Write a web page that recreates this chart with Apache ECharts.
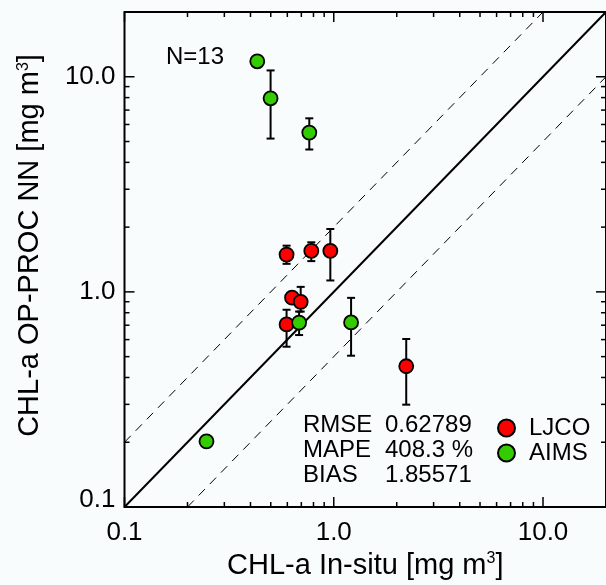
<!DOCTYPE html>
<html>
<head>
<meta charset="utf-8">
<script src="https://cdn.jsdelivr.net/npm/echarts@6/dist/echarts.min.js"></script>
<style>
  html, body { margin: 0; padding: 0; background: #f9fcfc; }
  #chart { width: 606px; height: 585px; }
</style>
</head>
<body>
<div id="chart"></div>
<script>
// LJCO match-ups (red)
const ljcoX = [0.595, 0.781, 0.963, 0.632, 0.695, 0.595, 2.22];
const ljcoY = [1.49, 1.55, 1.55, 0.94, 0.899, 0.706, 0.451];
const ljcoLo = [1.35, 1.39, 1.13, null, 0.81, 0.556, 0.299];
const ljcoHi = [1.64, 1.70, 1.96, null, 1.055, 0.826, 0.604];

// AIMS match-ups (green)
const aimsX = [0.431, 0.499, 0.764, 0.683, 1.21, 0.2465];
const aimsY = [11.8, 7.94, 5.5, 0.72, 0.721, 0.202];
const aimsLo = [null, 5.16, 4.59, 0.63, 0.505, null];
const aimsHi = [null, 10.7, 6.41, 0.81, 0.938, null];

// reference lines: 1:1, and factor 2 above / below
const lineOne = [[0.1, 0.1], [20, 20]];
const lineUp = [[0.1, 0.2], [10, 20]];
const lineDown = [[0.2, 0.1], [20, 10]];

const axisMin = 0.1;
const axisMax = 20;
const majorTicks = [0.1, 1, 10];
const majorLabels = ['0.1', '1.0', '10.0'];
const minorTicks = [0.2, 0.3, 0.4, 0.5, 0.6, 0.7, 0.8, 0.9, 2, 3, 4, 5, 6, 7, 8, 9];

const stats = [
  ['RMSE', '0.62789'],
  ['MAPE', '408.3 %'],
  ['BIAS', '1.85571']
];

const FONT = '"Liberation Sans", Arial, Helvetica, sans-serif';
const RED = '#ff0000';
const GREEN = '#33cc00';

function labelFor(v) {
  let idx = 0;
  majorTicks.forEach((t, i) => {
    if (Math.abs(Math.log10(t) - Math.log10(v)) < Math.abs(Math.log10(majorTicks[idx]) - Math.log10(v))) idx = i;
  });
  return majorLabels[idx];
}

function errData(xs, lo, hi) {
  const out = [];
  xs.forEach((x, i) => {
    if (lo[i] != null) out.push([x, lo[i], hi[i]]);
  });
  return out;
}

function zip(xs, ys) {
  return xs.map((x, i) => [x, ys[i]]);
}

function renderErr(params, api) {
  const x = api.value(0);
  const p1 = api.coord([x, api.value(1)]);
  const p2 = api.coord([x, api.value(2)]);
  const cap = 4;
  const style = { stroke: '#000', lineWidth: 2 };
  return {
    type: 'group',
    children: [
      { type: 'line', shape: { x1: p1[0], y1: p1[1], x2: p2[0], y2: p2[1] }, style },
      { type: 'line', shape: { x1: p1[0] - cap, y1: p1[1], x2: p1[0] + cap, y2: p1[1] }, style },
      { type: 'line', shape: { x1: p2[0] - cap, y1: p2[1], x2: p2[0] + cap, y2: p2[1] }, style }
    ]
  };
}

// ticks on all four sides, pointing inwards
function renderTick(horizontal) {
  return function (params, api) {
    const cs = params.coordSys;
    const len = api.value(2) ? 10 : 5;
    const style = { stroke: '#000', lineWidth: 1.5 };
    if (horizontal) {
      const px = api.coord([api.value(0), 1])[0];
      const b = cs.y + cs.height;
      return {
        type: 'group',
        children: [
          { type: 'line', shape: { x1: px, y1: b, x2: px, y2: b - len }, style },
          { type: 'line', shape: { x1: px, y1: cs.y, x2: px, y2: cs.y + len }, style }
        ]
      };
    }
    const py = api.coord([1, api.value(1)])[1];
    const r = cs.x + cs.width;
    return {
      type: 'group',
      children: [
        { type: 'line', shape: { x1: cs.x, y1: py, x2: cs.x + len, y2: py }, style },
        { type: 'line', shape: { x1: r, y1: py, x2: r - len, y2: py }, style }
      ]
    };
  };
}

const xTickData = majorTicks.map(v => [v, 1, 1]).concat(minorTicks.map(v => [v, 1, 0]));
const yTickData = majorTicks.map(v => [1, v, 1]).concat(minorTicks.map(v => [1, v, 0]));

const chart = echarts.init(document.getElementById('chart'));

const statText = [];
stats.forEach((s, i) => {
  statText.push({
    type: 'text', left: 303, top: 413 + i * 25,
    style: { text: s[0], font: '24px ' + FONT, fill: '#000' }
  });
  statText.push({
    type: 'text', left: 385, top: 413 + i * 25,
    style: { text: s[1], font: '24px ' + FONT, fill: '#000' }
  });
});

const option = {
  backgroundColor: '#f9fcfc',
  animation: false,
  grid: {
    left: 124.5, top: 12, right: -7, bottom: 76,
    show: true, borderColor: '#000', borderWidth: 2, backgroundColor: 'transparent'
  },
  legend: {
    orient: 'vertical',
    left: 492, top: 411,
    itemWidth: 17, itemHeight: 17, itemGap: 1,
    icon: 'circle',
    data: ['LJCO', 'AIMS'],
    textStyle: { fontFamily: FONT, fontSize: 24, color: '#000', lineHeight: 22, padding: [0, 0, 0, 9] }
  },
  xAxis: {
    type: 'log', min: axisMin, max: axisMax,
    axisLine: { show: false },
    axisTick: { show: false },
    splitLine: { show: false },
    axisLabel: {
      customValues: majorTicks,
      formatter: v => labelFor(v),
      fontFamily: FONT, fontSize: 26, color: '#000', margin: 13
    },
    name: 'CHL-a In-situ [mg m{sup|3}]',
    nameLocation: 'middle', nameGap: 44,
    nameTextStyle: {
      fontFamily: FONT, fontSize: 29, color: '#000',
      rich: { sup: { fontFamily: FONT, fontSize: 16, verticalAlign: 'top', color: '#000' } }
    }
  },
  yAxis: {
    type: 'log', min: axisMin, max: axisMax,
    axisLine: { show: false },
    axisTick: { show: false },
    splitLine: { show: false },
    axisLabel: {
      customValues: majorTicks,
      formatter: v => {
        const s = labelFor(v);
        return s === '0.1' ? '{lo|' + s + '}' : s;
      },
      fontFamily: FONT, fontSize: 26, color: '#000', margin: 9,
      rich: { lo: { fontFamily: FONT, fontSize: 26, color: '#000', padding: [0, 0, 14, 0] } }
    },
    name: 'CHL-a OP-PROC NN [mg m{sup|3}]',
    nameLocation: 'middle', nameGap: 80,
    nameTextStyle: {
      fontFamily: FONT, fontSize: 29, color: '#000',
      padding: [0, 0, 0, 28],
      rich: { sup: { fontFamily: FONT, fontSize: 16, verticalAlign: 'top', color: '#000' } }
    }
  },
  graphic: [
    { type: 'text', left: 166, top: 45, style: { text: 'N=13', font: '24px ' + FONT, fill: '#000' } }
  ].concat(statText),
  series: [
    {
      name: 'one', type: 'line', data: lineOne, symbol: 'none', silent: true,
      lineStyle: { color: '#000', width: 2 }
    },
    {
      name: 'up', type: 'line', data: lineUp, symbol: 'none', silent: true,
      lineStyle: { color: '#000', width: 1, type: [9, 7] }
    },
    {
      name: 'down', type: 'line', data: lineDown, symbol: 'none', silent: true,
      lineStyle: { color: '#000', width: 1, type: [9, 7] }
    },
    { type: 'custom', renderItem: renderTick(true), data: xTickData, clip: false, silent: true },
    { type: 'custom', renderItem: renderTick(false), data: yTickData, clip: false, silent: true },
    { type: 'custom', renderItem: renderErr, data: errData(ljcoX, ljcoLo, ljcoHi), encode: { x: 0, y: [1, 2] }, z: 3 },
    {
      name: 'LJCO', type: 'scatter', data: zip(ljcoX, ljcoY), symbolSize: 14, z: 4,
      itemStyle: { color: RED, borderColor: '#000', borderWidth: 1.8, opacity: 1 }
    },
    { type: 'custom', renderItem: renderErr, data: errData(aimsX, aimsLo, aimsHi), encode: { x: 0, y: [1, 2] }, z: 5 },
    {
      name: 'AIMS', type: 'scatter', data: zip(aimsX, aimsY), symbolSize: 14, z: 6,
      itemStyle: { color: GREEN, borderColor: '#000', borderWidth: 1.8, opacity: 1 }
    }
  ]
};

chart.setOption(option);
</script>
</body>
</html>
